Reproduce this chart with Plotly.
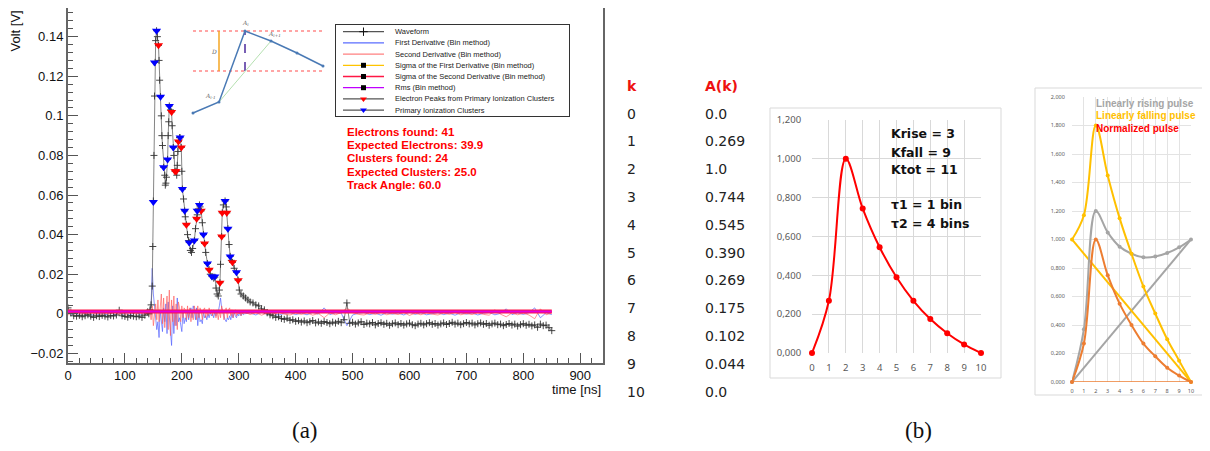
import plotly.graph_objects as go

W, H = 1210, 451
# the page body adds an 8px margin around the figure; layout positions below are reference pixels
OX, OY = 8, 8

def px(x):
    return max(0.0, min(1.0, (x - OX) / W))

def py(y):
    return max(0.0, min(1.0, 1 - (y - OY) / H))

# ---------------- (a) waveform data ----------------
WAVE_T_PRE = list(range(0, 141, 5))
WAVE_V_PRE = [0.0030, 0.0005, -0.0010, -0.0012, -0.0008, -0.0015, -0.0010, -0.0005, -0.0012, -0.0018,
              -0.0010, -0.0014, -0.0008, -0.0012, -0.0016, -0.0009, -0.0011, -0.0006, 0.0018, -0.0010,
              -0.0013, -0.0017, -0.0009, -0.0012, -0.0015, -0.0011, -0.0018, -0.0007, 0.0010]
WAVE_T_PEAK = [142, 144, 146, 148, 149, 150, 151, 152, 153, 154, 155.6, 157, 159, 160, 161, 162.6, 164, 165,
               166, 168, 170, 171, 172, 173, 175, 176, 177, 178, 180, 182, 183, 185, 186, 188, 190, 191, 192,
               193, 194, 196, 197, 199, 200, 201, 203, 205, 206, 208, 210, 212, 213, 215, 217, 219, 222, 224,
               226, 227, 229, 231, 232, 234, 236, 238, 240, 242, 245, 248, 250, 253, 256, 258, 260, 262, 264,
               266, 267, 268, 270, 271, 273, 276, 278, 279, 281, 283, 285, 287, 289, 292, 296, 299, 301, 304,
               308, 312, 316, 320, 325, 330, 335, 340, 345, 350]
WAVE_V_PEAK = [0.0000, 0.0020, 0.0045, 0.0140, 0.0340, 0.0570, 0.0800, 0.1100, 0.1270, 0.1380, 0.1430, 0.1400,
               0.1356, 0.1280, 0.1180, 0.1097, 0.1000, 0.0900, 0.0850, 0.0740, 0.0700, 0.0650, 0.0660, 0.0690,
               0.0780, 0.0900, 0.0970, 0.1050, 0.1030, 0.1020, 0.0950, 0.0840, 0.0800, 0.0720, 0.0720, 0.0700,
               0.0750, 0.0820, 0.0870, 0.0890, 0.0890, 0.0840, 0.0720, 0.0630, 0.0580, 0.0520, 0.0490, 0.0450,
               0.0400, 0.0370, 0.0360, 0.0320, 0.0310, 0.0330, 0.0370, 0.0430, 0.0480, 0.0500, 0.0530, 0.0550,
               0.0540, 0.0520, 0.0460, 0.0400, 0.0355, 0.0310, 0.0254, 0.0223, 0.0200, 0.0188, 0.0180, 0.0185,
               0.0130, 0.0100, 0.0090, 0.0120, 0.0157, 0.0250, 0.0390, 0.0510, 0.0550, 0.0570, 0.0540, 0.0510,
               0.0430, 0.0350, 0.0290, 0.0270, 0.0260, 0.0230, 0.0210, 0.0170, 0.0120, 0.0100, 0.0090, 0.0080,
               0.0070, 0.0060, 0.0055, 0.0045, 0.0040, 0.0025, 0.0020, 0.0005]
WAVE_T_TAIL = list(range(355, 851, 5))
WAVE_V_TAIL = [-0.0005, -0.0010, -0.0018, -0.0015, -0.0024, -0.0028, -0.0022, -0.0033, -0.0030, -0.0038,
               -0.0035, -0.0042, -0.0036, -0.0045, -0.0040, -0.0034, -0.0046, -0.0041, -0.0048, -0.0039,
               -0.0044, -0.0050, -0.0042, -0.0047, -0.0038, -0.0045, -0.0030, 0.0055, -0.0048, -0.0043,
               -0.0052, -0.0046, -0.0040, -0.0054, -0.0047, -0.0051, -0.0044, -0.0056, -0.0049, -0.0045,
               -0.0053, -0.0048, -0.0058, -0.0050, -0.0046, -0.0055, -0.0049, -0.0057, -0.0051, -0.0047,
               -0.0055, -0.0060, -0.0052, -0.0048, -0.0056, -0.0050, -0.0045, -0.0053, -0.0049, -0.0057,
               -0.0051, -0.0046, -0.0054, -0.0049, -0.0043, -0.0052, -0.0047, -0.0055, -0.0050, -0.0044,
               -0.0051, -0.0047, -0.0056, -0.0050, -0.0046, -0.0053, -0.0049, -0.0058, -0.0051, -0.0047,
               -0.0055, -0.0052, -0.0060, -0.0054, -0.0049, -0.0057, -0.0052, -0.0062, -0.0055, -0.0050,
               -0.0058, -0.0053, -0.0061, -0.0056, -0.0068, -0.0052, -0.0060, -0.0057, -0.0070, -0.0085]

# derivatives
DER_T_PRE = list(range(0, 139, 6))
DER_T_ACT = list(range(140, 311, 2))
DER_T_TAIL = list(range(320, 851, 10))
DER1_PRE = [0.0008, -0.0005, 0.0003, -0.0008, 0.0004, -0.0002, 0.0006, -0.0007, 0.0002, -0.0004, 0.0005, -0.0006,
            0.0003, 0.0001, -0.0005, 0.0007, -0.0003, 0.0004, -0.0006, 0.0002, 0.0005, -0.0004, 0.0003, -0.0002]
DER1_ACT = [0.0005, 0.0010, 0.0020, 0.0040, 0.0230, 0.0100, 0.0040, -0.0020, -0.0080, -0.0040,
            -0.0120, 0.0020, -0.0060, -0.0090, 0.0030, -0.0040, 0.0050, -0.0100, 0.0060, -0.0030,
            -0.0080, -0.0160, 0.0040, -0.0100, 0.0020, -0.0060, 0.0080, -0.0040, -0.0020, -0.0070,
            -0.0090, 0.0010, -0.0050, -0.0020, -0.0040, 0.0020, -0.0030, 0.0010, 0.0030, -0.0020,
            0.0040, 0.0020, -0.0030, 0.0030, -0.0060, 0.0010, -0.0040, -0.0030, -0.0050, 0.0010,
            -0.0020, -0.0010, -0.0030, 0.0000, -0.0020, 0.0010, -0.0010, 0.0000, -0.0020, 0.0010,
            -0.0010, 0.0020, 0.0010, 0.0040, 0.0080, 0.0030, 0.0010, -0.0020, -0.0030, -0.0040,
            -0.0020, -0.0030, -0.0010, -0.0030, 0.0000, -0.0020, 0.0010, -0.0010, -0.0020, 0.0000,
            -0.0010, 0.0010, -0.0010, 0.0005, -0.0005, 0.0000]
DER1_TAIL = [0.0004, -0.0006, 0.0008, -0.0003, 0.0005, -0.0007, 0.0002, 0.0006, -0.0004, 0.0003,
             -0.0005, 0.0007, -0.0002, 0.0030, -0.0004, 0.0005, 0.0004, -0.0060, -0.0006, 0.0003,
             0.0006, -0.0004, 0.0003, -0.0007, 0.0005, -0.0002, 0.0004, -0.0006, 0.0008, -0.0003,
             0.0005, -0.0005, 0.0002, 0.0006, -0.0004, 0.0003, -0.0007, 0.0005, -0.0002, 0.0004,
             -0.0006, 0.0003, 0.0007, -0.0005, 0.0002, 0.0025, -0.0004, 0.0005, -0.0003, 0.0006,
             0.0030, -0.0020, 0.0005, -0.0004]
DER2_PRE = [-0.0006, 0.0004, -0.0002, 0.0007, -0.0005, 0.0003, -0.0004, 0.0006, -0.0003, 0.0002, -0.0007, 0.0005,
            -0.0002, 0.0004, 0.0006, -0.0005, 0.0003, -0.0006, 0.0002, 0.0005, -0.0004, 0.0006, -0.0003, 0.0002]
DER2_ACT = [0.0000, -0.0010, 0.0020, -0.0030, 0.0040, -0.0060, 0.0020, 0.0050, -0.0030, 0.0070,
            -0.0040, 0.0060, 0.0100, -0.0050, 0.0080, -0.0070, 0.0040, 0.0090, -0.0080, 0.0120,
            -0.0110, 0.0070, -0.0040, 0.0090, -0.0060, 0.0050, -0.0080, 0.0060, 0.0030, -0.0040,
            0.0040, -0.0020, 0.0030, 0.0020, -0.0030, 0.0040, -0.0020, 0.0030, -0.0040, 0.0020,
            -0.0030, 0.0040, 0.0010, -0.0030, 0.0040, -0.0020, 0.0030, 0.0010, -0.0030, 0.0020,
            0.0030, -0.0020, 0.0020, -0.0010, 0.0030, 0.0000, 0.0020, -0.0010, 0.0020, 0.0010,
            -0.0020, 0.0010, -0.0030, 0.0020, -0.0020, 0.0040, 0.0010, -0.0030, 0.0020, 0.0030,
            -0.0020, 0.0020, 0.0030, -0.0010, 0.0020, -0.0020, 0.0010, 0.0020, -0.0010, 0.0010,
            0.0000, 0.0010, -0.0010, 0.0010, 0.0000, 0.0010]
DER2_TAIL = [-0.0004, 0.0006, -0.0007, 0.0003, -0.0005, 0.0008, -0.0002, -0.0006, 0.0004, -0.0003,
             0.0005, -0.0007, 0.0002, -0.0020, 0.0004, -0.0005, 0.0006, 0.0030, 0.0006, -0.0003,
             -0.0006, 0.0004, -0.0003, 0.0007, -0.0005, 0.0002, -0.0004, 0.0006, -0.0008, 0.0003,
             -0.0005, 0.0005, -0.0002, -0.0006, 0.0004, -0.0003, 0.0007, -0.0005, 0.0002, -0.0004,
             0.0006, -0.0003, -0.0007, 0.0020, -0.0002, -0.0015, 0.0004, -0.0005, 0.0003, -0.0006,
             -0.0025, 0.0025, -0.0005, 0.0004]

SIGMA_T = [0, 850]
SIGMA1 = 0.0011
SIGMA2 = 0.0012
RMS = 0.0012

CLUSTER_T = [150, 152, 155.6, 162.6, 168, 175, 178, 185, 197, 201, 205, 213, 222, 227, 231, 238, 245, 253, 258,
             276, 281, 285, 296]
CLUSTER_V = [0.0565, 0.127, 0.143, 0.1097, 0.074, 0.078, 0.105, 0.084, 0.089, 0.063, 0.052, 0.036, 0.037, 0.052,
             0.055, 0.040, 0.0254, 0.0188, 0.0188, 0.057, 0.043, 0.029, 0.021]
ELECTRON_T = [159, 182, 188, 190, 194, 199, 208, 226, 234, 240, 248, 267, 270, 271, 279, 289, 299]
ELECTRON_V = [0.1356, 0.102, 0.072, 0.072, 0.087, 0.084, 0.045, 0.048, 0.052, 0.0355, 0.0223, 0.0157, 0.039,
              0.051, 0.051, 0.026, 0.017]

INFO_LINES = ["Electrons found: 41", "Expected Electrons: 39.9", "Clusters found: 24",
              "Expected Clusters: 25.0", "Track Angle: 60.0"]

LEGEND_LABELS = ["Waveform", "First Derivative (Bin method)", "Second Derivative (Bin method)",
                 "Sigma of the First Derivative (Bin method)", "Sigma of the Second Derivative (Bin method)",
                 "Rms (Bin method)", "Electron Peaks from Primary Ionization Clusters",
                 "Primary Ionization Clusters"]
LEGEND_LINE_COLORS = ["#555555", "#5a6cff", "#ff8080", "#ffc400", "#ff1744", "#c000ff", "#555555", "#555555"]
LEGEND_MARKERS = ["cross-thin", None, None, "square", "square", "square", "triangle-down", "triangle-down"]
LEGEND_MARKER_COLORS = ["#111111", None, None, "#000000", "#000000", "#000000", "#ff0000", "#0000ff"]

# inset sketch
INSET_X = [0, 1, 2, 3, 4, 5]
INSET_Y = [0.0, 0.134, 1.0, 0.878, 0.732, 0.573]
INSET_HI = 1.0
INSET_LO = 0.512

# ---------------- (b) data ----------------
K_VALUES = list(range(11))
A_LABELS = ["0.0", "0.269", "1.0", "0.744", "0.545", "0.390", "0.269", "0.175", "0.102", "0.044", "0.0"]
A_VALUES = [0.0, 0.269, 1.0, 0.744, 0.545, 0.390, 0.269, 0.175, 0.102, 0.044, 0.0]
PARAM_TEXT = ["Krise = 3", "Kfall = 9", "Ktot = 11", "τ1 = 1 bin", "τ2 = 4 bins"]

Y1_TICKS = [0.0, 0.2, 0.4, 0.6, 0.8, 1.0, 1.2]
Y1_LABELS = ["0,000", "0,200", "0,400", "0,600", "0,800", "1,000", "1,200"]
Y2_TICKS = [0.0, 0.2, 0.4, 0.6, 0.8, 1.0, 1.2, 1.4, 1.6, 1.8, 2.0]
Y2_LABELS = ["0,000", "0,200", "0,400", "0,600", "0,800", "1,000", "1,200", "1,400", "1,600", "1,800", "2,000"]

RISING_PULSE = [0.0, 0.37, 1.2, 1.05, 0.95, 0.9, 0.875, 0.88, 0.905, 0.945, 1.0]
FALLING_PULSE = [1.0, 1.17, 1.8, 1.45, 1.15, 0.9, 0.67, 0.48, 0.3, 0.15, 0.0]
NORMALIZED_PULSE = [0.0, 0.27, 1.0, 0.75, 0.55, 0.4, 0.27, 0.18, 0.1, 0.045, 0.0]
RISING_RAMP = [0.0, 1.0]
FALLING_RAMP = [1.0, 0.0]
BASE_LINE = [0.0, 0.0]
RAMP_X = [0, 10]
PULSE_NAMES = ["Linearly rising pulse", "Linearly falling pulse", "Normalized pulse"]

GRAY, YELLOW, ORANGE = "#a5a5a5", "#ffc000", "#ed7d31"

ROOT_FONT = "Liberation Sans, Arial, sans-serif"

fig = go.Figure()

# ---- (a) main plot ----
DER_T = DER_T_PRE + DER_T_ACT + DER_T_TAIL
fig.add_trace(go.Scatter(x=DER_T, y=DER1_PRE + DER1_ACT + DER1_TAIL, mode="lines",
                         line=dict(color="rgba(80,95,255,0.85)", width=0.8), xaxis="x", yaxis="y"))
fig.add_trace(go.Scatter(x=DER_T, y=DER2_PRE + DER2_ACT + DER2_TAIL, mode="lines",
                         line=dict(color="rgba(255,90,90,0.8)", width=0.8), xaxis="x", yaxis="y"))
fig.add_trace(go.Scatter(x=WAVE_T_PRE + WAVE_T_PEAK + WAVE_T_TAIL, y=WAVE_V_PRE + WAVE_V_PEAK + WAVE_V_TAIL,
                         mode="lines+markers", line=dict(color="#666666", width=0.8),
                         marker=dict(symbol="cross-thin", size=5, line=dict(color="#333333", width=0.9)),
                         xaxis="x", yaxis="y"))
fig.add_trace(go.Scatter(x=SIGMA_T, y=[SIGMA1, SIGMA1], mode="lines", line=dict(color="#ffc400", width=2),
                         xaxis="x", yaxis="y"))
fig.add_trace(go.Scatter(x=SIGMA_T, y=[SIGMA2, SIGMA2], mode="lines", line=dict(color="#ff1744", width=4),
                         xaxis="x", yaxis="y"))
fig.add_trace(go.Scatter(x=SIGMA_T, y=[RMS, RMS], mode="lines", line=dict(color="#e000e0", width=2),
                         xaxis="x", yaxis="y"))
fig.add_trace(go.Scatter(x=ELECTRON_T, y=ELECTRON_V, mode="markers",
                         marker=dict(symbol="triangle-down", size=8, color="#ff0000"), xaxis="x", yaxis="y"))
fig.add_trace(go.Scatter(x=CLUSTER_T, y=CLUSTER_V, mode="markers",
                         marker=dict(symbol="triangle-down", size=8, color="#0000ff"), xaxis="x", yaxis="y"))

# ---- inset sketch ----
for yv in (INSET_HI, INSET_LO):
    fig.add_trace(go.Scatter(x=[INSET_X[0], INSET_X[-1]], y=[yv, yv], mode="lines",
                             line=dict(color="#ff4d4d", width=1.2, dash="dot"), xaxis="x2", yaxis="y2"))
fig.add_trace(go.Scatter(x=[INSET_X[1], INSET_X[1]], y=[INSET_LO, INSET_HI], mode="lines",
                         line=dict(color="#f5a623", width=1.5), xaxis="x2", yaxis="y2"))
fig.add_trace(go.Scatter(x=[INSET_X[2], INSET_X[2]], y=[INSET_LO, INSET_HI], mode="lines",
                         line=dict(color="#4b2a9b", width=1.5, dash="dash"), xaxis="x2", yaxis="y2"))
fig.add_trace(go.Scatter(x=[INSET_X[1], INSET_X[3]], y=[INSET_Y[1], INSET_Y[3]], mode="lines",
                         line=dict(color="#b5e0b0", width=1), xaxis="x2", yaxis="y2"))
fig.add_trace(go.Scatter(x=INSET_X, y=INSET_Y, mode="lines+markers", cliponaxis=False,
                         line=dict(color="#4a7ab5", width=1.5), marker=dict(size=3, color="#4a7ab5"),
                         xaxis="x2", yaxis="y2"))

# ---- manual legend box ----
ROW0_PX, ROW_PX, BOX_PX = 6.7, 11.2, 91.0
for i, lab in enumerate(LEGEND_LABELS):
    yr = 1 - (ROW0_PX + i * ROW_PX) / BOX_PX
    fig.add_trace(go.Scatter(x=[0.03, 0.206], y=[yr, yr], mode="lines",
                             line=dict(color=LEGEND_LINE_COLORS[i], width=1.3), xaxis="x3", yaxis="y3"))
    if LEGEND_MARKERS[i]:
        mk = dict(symbol=LEGEND_MARKERS[i], size=6 if LEGEND_MARKERS[i] != "square" else 5,
                  color=LEGEND_MARKER_COLORS[i])
        if LEGEND_MARKERS[i] == "cross-thin":
            mk["line"] = dict(color=LEGEND_MARKER_COLORS[i], width=1)
        fig.add_trace(go.Scatter(x=[0.118], y=[yr], mode="markers", marker=mk, xaxis="x3", yaxis="y3"))
    fig.add_annotation(x=0.245, y=yr, xref="x3", yref="y3", text=lab, showarrow=False, xanchor="left",
                       yanchor="middle", font=dict(family=ROOT_FONT, size=7.5, color="#222222"))

# ---- (b) table ----
fig.add_trace(go.Scatter(x=[0, 1], y=[-1, -1], text=["k", "A(k)"], mode="text", textposition="middle right",
                         textfont=dict(family="DejaVu Sans", size=14, color="#ee1111", weight="bold"),
                         xaxis="x4", yaxis="y4"))
fig.add_trace(go.Scatter(x=[0] * len(K_VALUES), y=K_VALUES, text=[str(k) for k in K_VALUES], mode="text",
                         textposition="middle right", textfont=dict(family="DejaVu Sans", size=14, color="#222222"),
                         xaxis="x4", yaxis="y4"))
fig.add_trace(go.Scatter(x=[1] * len(K_VALUES), y=K_VALUES, text=A_LABELS, mode="text",
                         textposition="middle right", textfont=dict(family="DejaVu Sans", size=14, color="#222222"),
                         xaxis="x4", yaxis="y4"))

# ---- (b) chart 1 ----
fig.add_trace(go.Scatter(x=K_VALUES, y=A_VALUES, mode="lines+markers", cliponaxis=False,
                         line=dict(color="#ff0000", width=2, shape="spline", smoothing=1.0),
                         marker=dict(size=6, color="#ff0000"), xaxis="x5", yaxis="y5"))

# ---- (b) chart 2 ----
fig.add_trace(go.Scatter(x=RAMP_X, y=RISING_RAMP, mode="lines", line=dict(color=GRAY, width=2),
                         xaxis="x6", yaxis="y6"))
fig.add_trace(go.Scatter(x=RAMP_X, y=FALLING_RAMP, mode="lines", line=dict(color=YELLOW, width=2),
                         xaxis="x6", yaxis="y6"))
fig.add_trace(go.Scatter(x=RAMP_X, y=BASE_LINE, mode="lines", line=dict(color=ORANGE, width=1.5),
                         cliponaxis=False, xaxis="x6", yaxis="y6"))
for ys, col in ((RISING_PULSE, GRAY), (FALLING_PULSE, YELLOW), (NORMALIZED_PULSE, ORANGE)):
    fig.add_trace(go.Scatter(x=K_VALUES, y=ys, mode="lines+markers", cliponaxis=False,
                             line=dict(color=col, width=2, shape="spline", smoothing=1.0),
                             marker=dict(size=4, color=col), xaxis="x6", yaxis="y6"))

# ---------------- layout ----------------
hidden = dict(visible=False, showgrid=False, zeroline=False, automargin=False)
# main frame: the reference top edge (y=3px) lies inside the page margin, so the top is clipped to the page
Y_PER_PX = 0.02 / 39.6
main_top = 0.157 - (OY - 3) * Y_PER_PX
fig.update_layout(
    width=W, height=H, margin=dict(l=0, r=0, t=0, b=0, autoexpand=False), showlegend=False,
    paper_bgcolor="white", plot_bgcolor="rgba(0,0,0,0)",
    xaxis=dict(domain=[px(68), px(603)], range=[0, 940], anchor="y", tickmode="linear", tick0=0, dtick=100,
               ticks="inside", ticklen=10, tickwidth=1, tickcolor="#555555", automargin=False,
               minor=dict(ticks="inside", ticklen=5, tickmode="linear", tick0=0, dtick=20, tickcolor="#555555"),
               showline=True, linecolor="#666666", linewidth=2, mirror=True, showgrid=False, zeroline=False,
               tickfont=dict(family=ROOT_FONT, size=13, color="#111111")),
    yaxis=dict(domain=[py(362.7), py(OY)], range=[-0.0247, main_top], anchor="x", tickmode="linear", tick0=0,
               dtick=0.02, ticks="inside", ticklen=10, tickwidth=1, tickcolor="#555555", automargin=False,
               minor=dict(ticks="inside", ticklen=5, tickmode="linear", tick0=0, dtick=0.004, tickcolor="#555555"),
               showline=True, linecolor="#666666", linewidth=2, mirror=True, showgrid=False, zeroline=False,
               tickfont=dict(family=ROOT_FONT, size=13, color="#111111")),
    xaxis2=dict(domain=[px(185.2), px(330.8)], range=[-0.3, 5.3], anchor="y2", **hidden),
    yaxis2=dict(domain=[py(125.3), py(18.7)], range=[-0.15, 1.15], anchor="x2", **hidden),
    xaxis3=dict(domain=[px(336), px(569)], range=[0, 1], anchor="y3", showline=True, mirror=True,
                linecolor="#333333", linewidth=1, showticklabels=False, ticks="", showgrid=False, zeroline=False,
                automargin=False),
    yaxis3=dict(domain=[py(116), py(25)], range=[0, 1], anchor="x3", showline=True, mirror=True,
                linecolor="#333333", linewidth=1, showticklabels=False, ticks="", showgrid=False, zeroline=False,
                automargin=False),
    xaxis4=dict(domain=[px(600), px(780)], range=[-27 / 78, 1 + 75 / 78], anchor="y4", **hidden),
    yaxis4=dict(domain=[py(405), py(75)], range=[(405 - 115) / 27.8, (75 - 115) / 27.8], anchor="x4", **hidden),
    xaxis5=dict(domain=[px(812), px(981)], range=[0, 10], anchor="y5", tickmode="linear", tick0=0, dtick=1,
                showgrid=True, gridcolor="#d9d9d9", gridwidth=1, zeroline=False, showline=False,
                ticks="outside", ticklen=6, tickcolor="rgba(0,0,0,0)", automargin=False,
                tickfont=dict(family="Noto Sans", size=9.5, color="#595959")),
    yaxis5=dict(domain=[py(353), py(120)], range=[0, 1.2], anchor="x5", tickmode="array", tickvals=Y1_TICKS,
                ticktext=Y1_LABELS, showgrid=True, gridcolor="#d9d9d9", gridwidth=1, zeroline=False,
                showline=False, ticks="outside", ticklen=8, tickcolor="rgba(0,0,0,0)", automargin=False,
                tickfont=dict(family="Noto Sans", size=9.5, color="#595959")),
    xaxis6=dict(domain=[px(1072), px(1191)], range=[0, 10], anchor="y6", tickmode="linear", tick0=0, dtick=1,
                showgrid=True, gridcolor="#e3e3e3", gridwidth=1, zeroline=False, showline=False,
                ticks="outside", ticklen=3, tickcolor="rgba(0,0,0,0)", automargin=False,
                tickfont=dict(family="Noto Sans", size=5.5, color="#595959")),
    yaxis6=dict(domain=[py(382), py(97)], range=[0, 2.0], anchor="x6", tickmode="array", tickvals=Y2_TICKS,
                ticktext=Y2_LABELS, showgrid=True, gridcolor="#e3e3e3", gridwidth=1, zeroline=False,
                showline=False, ticks="outside", ticklen=5, tickcolor="rgba(0,0,0,0)", automargin=False,
                tickfont=dict(family="Noto Sans", size=5.5, color="#595959")),
)

# axis titles for (a)
fig.add_annotation(x=px(15), y=py(9), xref="paper", yref="paper", text="Volt [V]", textangle=-90,
                   showarrow=False, xanchor="center", yanchor="top",
                   font=dict(family=ROOT_FONT, size=13, color="#111111"))
fig.add_annotation(x=px(603), y=py(389), xref="paper", yref="paper", text="time [ns]", showarrow=False,
                   xanchor="right", yanchor="middle", font=dict(family=ROOT_FONT, size=13, color="#111111"))

# info text
for i, line in enumerate(INFO_LINES):
    fig.add_annotation(x=px(345), y=py(132 + i * 13.2), xref="paper", yref="paper", text="<b>%s</b>" % line,
                       showarrow=False, xanchor="left", yanchor="middle",
                       font=dict(family=ROOT_FONT, size=11.5, color="#ff0000"))

# inset labels
inset_font = dict(family="DejaVu Serif", size=6, color="#666666")
fig.add_annotation(x=INSET_X[2], y=INSET_Y[2], xref="x2", yref="y2", text="<i>A<sub>i</sub></i>",
                   showarrow=False, yshift=8, font=inset_font)
fig.add_annotation(x=INSET_X[3], y=INSET_Y[3], xref="x2", yref="y2", text="<i>A<sub>i+1</sub></i>",
                   showarrow=False, yshift=7, xshift=3, font=inset_font)
fig.add_annotation(x=INSET_X[1], y=INSET_Y[1], xref="x2", yref="y2", text="<i>A<sub>i-1</sub></i>",
                   showarrow=False, yshift=6, xshift=-9, font=inset_font)
fig.add_annotation(x=0.8, y=(INSET_HI + INSET_LO) / 2, xref="x2", yref="y2", text="<i>D</i>",
                   showarrow=False, font=inset_font)

# chart 1 parameter text
PARAM_Y = [134, 152, 170, 204, 223]
for txt, yy in zip(PARAM_TEXT, PARAM_Y):
    fig.add_annotation(x=px(889), y=py(yy), xref="paper", yref="paper", text="<b>%s</b>" % txt,
                       showarrow=False, xanchor="left", yanchor="middle",
                       font=dict(family="DejaVu Sans", size=12.5, color="#111111"))

# chart 2 legend text
for i, (nm, col) in enumerate(zip(PULSE_NAMES, [GRAY, YELLOW, "#ff0000"])):
    fig.add_annotation(x=px(1094), y=py(103 + i * 12.5), xref="paper", yref="paper", text="<b>%s</b>" % nm,
                       showarrow=False, xanchor="left", yanchor="middle",
                       font=dict(family=ROOT_FONT, size=10, color=col))

# chart borders
fig.add_shape(type="rect", xref="paper", yref="paper", x0=px(770), x1=px(1001), y0=py(378), y1=py(108),
              line=dict(color="#d9d9d9", width=1))
fig.add_shape(type="rect", xref="paper", yref="paper", x0=px(1035), x1=px(1203), y0=py(395), y1=py(88),
              line=dict(color="#d9d9d9", width=1))

# captions
for lab, xx in (("(a)", 305), ("(b)", 918)):
    fig.add_annotation(x=px(xx), y=py(430), xref="paper", yref="paper", text=lab, showarrow=False,
                       xanchor="center", yanchor="middle",
                       font=dict(family="Liberation Serif, serif", size=23, color="#111111"))

fig.write_html("out.html")
